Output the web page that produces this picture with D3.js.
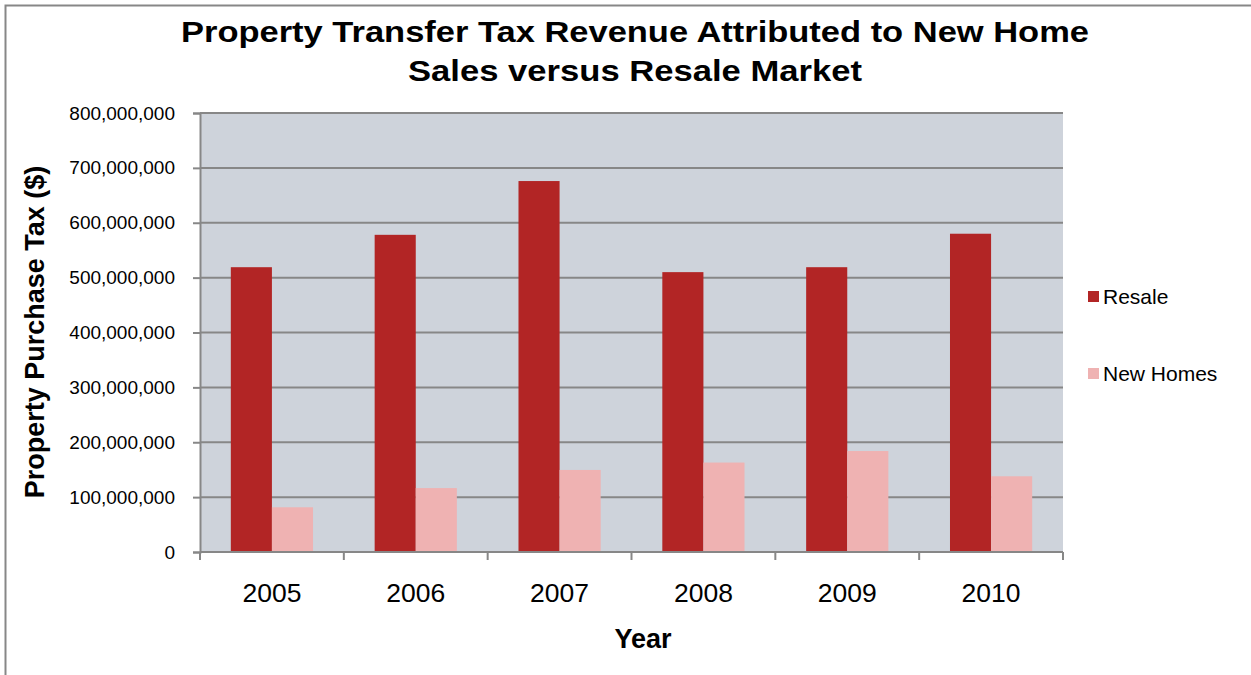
<!DOCTYPE html>
<html>
<head>
<meta charset="utf-8">
<script src="https://cdn.jsdelivr.net/npm/d3@7"></script>
<style>
  body { margin: 0; background: #fff; }
  text { font-family: "Liberation Sans", Arial, sans-serif; }
</style>
</head>
<body>
<svg id="chart" width="1251" height="675"></svg>
<script>
// chart data
var years = ["2005", "2006", "2007", "2008", "2009", "2010"];
var seriesNames = ["Resale", "New Homes"];
var resale = [519000000, 578000000, 676000000, 510000000, 519000000, 580000000];
var newHomes = [81500000, 116500000, 149500000, 163000000, 184000000, 138000000];
var yTicks = [0, 100000000, 200000000, 300000000, 400000000, 500000000, 600000000, 700000000, 800000000];
var colors = ["#B22525", "#EFB2B2"];

var svg = d3.select("#chart");
var plot = { left: 200, top: 113, right: 1063, bottom: 552 };
var gridColor = "#878787";

// outer chart border (runs off the right/bottom of the picture)
svg.append("rect")
  .attr("x", 5.5).attr("y", 5.5)
  .attr("width", 1300).attr("height", 700)
  .attr("fill", "#fff")
  .attr("stroke", gridColor)
  .attr("stroke-width", 2);

var x0 = d3.scaleBand().domain(years).range([plot.left, plot.right]).paddingInner(0).paddingOuter(0);
// gap width 150% -> each bar = band / 3.5
var x1 = d3.scaleBand().domain(seriesNames).range([0, x0.bandwidth()]).paddingInner(0).paddingOuter(0.75);
var y = d3.scaleLinear().domain([0, 800000000]).range([plot.bottom, plot.top]);

// plot background
svg.append("rect")
  .attr("x", plot.left).attr("y", plot.top)
  .attr("width", plot.right - plot.left).attr("height", plot.bottom - plot.top)
  .attr("fill", "#CED3DB");

// gridlines
svg.append("g").selectAll("line")
  .data(yTicks.filter(d => d > 0))
  .join("line")
  .attr("x1", plot.left).attr("x2", plot.right)
  .attr("y1", d => y(d)).attr("y2", d => y(d))
  .attr("stroke", gridColor).attr("stroke-width", 2);

// bars
var groups = svg.append("g").selectAll("g")
  .data(years)
  .join("g")
  .attr("transform", d => "translate(" + x0(d) + ",0)");

groups.selectAll("rect")
  .data((d, i) => [
    { key: "Resale", value: resale[i] },
    { key: "New Homes", value: newHomes[i] }
  ])
  .join("rect")
  .attr("x", d => x1(d.key))
  .attr("width", x1.bandwidth())
  .attr("y", d => y(d.value))
  .attr("height", d => y(0) - y(d.value))
  .attr("fill", (d, i) => colors[i]);

// y axis
var yAxis = d3.axisLeft(y)
  .tickValues(yTicks)
  .tickSize(7)
  .tickPadding(18)
  .tickFormat(d3.format(",d"));

var yG = svg.append("g")
  .attr("transform", "translate(" + plot.left + ",0)")
  .call(yAxis);
yG.select(".domain").attr("stroke", gridColor).attr("stroke-width", 2);
yG.selectAll(".tick line").attr("stroke", gridColor).attr("stroke-width", 2);
yG.selectAll(".tick text")
  .attr("font-size", 19)
  .attr("fill", "#000")
  .style("font-family", "'Liberation Sans', Arial, sans-serif");

// x axis: ticks at the category boundaries
var xG = svg.append("g").attr("transform", "translate(0," + plot.bottom + ")");
xG.append("line")
  .attr("x1", plot.left).attr("x2", plot.right)
  .attr("stroke", gridColor).attr("stroke-width", 2);
xG.selectAll(".bound")
  .data(years.concat(["end"]))
  .join("line")
  .attr("class", "bound")
  .attr("x1", (d, i) => plot.left + i * x0.bandwidth())
  .attr("x2", (d, i) => plot.left + i * x0.bandwidth())
  .attr("y1", 0).attr("y2", 8)
  .attr("stroke", gridColor).attr("stroke-width", 2);
xG.selectAll(".lbl")
  .data(years)
  .join("text")
  .attr("class", "lbl")
  .attr("x", d => x0(d) + x0.bandwidth() / 2)
  .attr("y", 50)
  .attr("text-anchor", "middle")
  .attr("font-size", 26.5)
  .text(d => d);

// titles (the original's lettering is a little wider than Liberation Sans)
var title = svg.append("text")
  .attr("text-anchor", "middle")
  .attr("font-size", 30)
  .attr("font-weight", "bold");
title.append("tspan").attr("x", 635).attr("y", 42)
  .attr("textLength", 908).attr("lengthAdjust", "spacingAndGlyphs")
  .text("Property Transfer Tax Revenue Attributed to New Home");
title.append("tspan").attr("x", 635).attr("y", 81)
  .attr("textLength", 454).attr("lengthAdjust", "spacingAndGlyphs")
  .text("Sales versus Resale Market");

svg.append("text")
  .attr("x", 643).attr("y", 648)
  .attr("text-anchor", "middle")
  .attr("font-size", 27)
  .attr("font-weight", "bold")
  .text("Year");

svg.append("text")
  .attr("transform", "translate(44,332) rotate(-90)")
  .attr("text-anchor", "middle")
  .attr("font-size", 27)
  .attr("font-weight", "bold")
  .text("Property Purchase Tax ($)");

// legend
var legend = svg.append("g").selectAll("g")
  .data(seriesNames)
  .join("g")
  .attr("transform", (d, i) => "translate(1088," + (291 + i * 77) + ")");
legend.append("rect")
  .attr("width", 11).attr("height", 11)
  .attr("fill", (d, i) => colors[i]);
legend.append("text")
  .attr("x", 15).attr("y", 13)
  .attr("font-size", 21)
  .text(d => d);
</script>
</body>
</html>
